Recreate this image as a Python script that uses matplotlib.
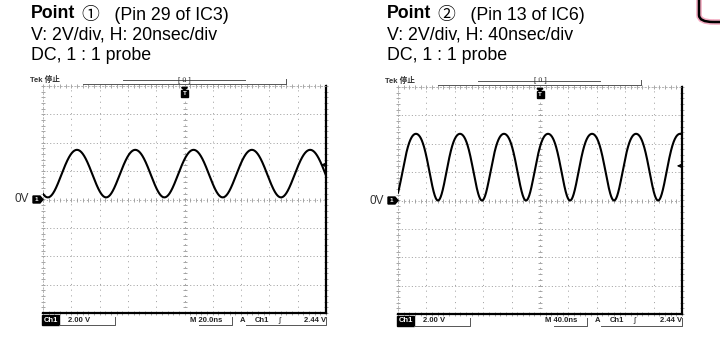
import numpy as np
import matplotlib.pyplot as plt
from matplotlib.patches import Polygon, Rectangle, FancyBboxPatch

plt.rcParams['font.family'] = ['Liberation Sans', 'Noto Sans CJK JP', 'DejaVu Sans']
plt.rcParams['lines.scale_dashes'] = False

W, H = 720, 350

# header text for each probe point
point_marks = ["\u2460", "\u2461"]
pin_labels = ["(Pin 29 of IC3)", "(Pin 13 of IC6)"]
setting_lines = ["V: 2V/div, H: 20nsec/div", "V: 2V/div, H: 40nsec/div"]
probe_lines = ["DC, 1 : 1 probe", "DC, 1 : 1 probe"]

# scope settings
time_per_div = [20.0, 40.0]   # ns/div
volt_per_div = [2.0, 2.0]     # V/div
trig_level_v = [2.44, 2.44]
ch_scale_labels = ["2.00 V", "2.00 V"]
time_labels = ["M 20.0ns", "M 40.0ns"]

# waveform
wave_period_ns = [41.2, 62.0]
wave_first_peak_ns = [24.0, 25.3]
wave_high_v = [3.5, 4.7]
wave_low_v = [0.15, 0.0]
wave_harmonic = [0.03, 0.12]  # 2nd harmonic share (sharper troughs on IC6)

# screen rectangles in pixels: left, top, right, bottom
screens = [(43, 86, 326, 313), (398, 87, 682, 314)]
text_left = [31, 387]

fig = plt.figure(figsize=(W / 100, H / 100), dpi=100)
renderer = fig.canvas.get_renderer()


def fx(x):
    return x / W


def fy(y):
    return 1 - y / H


for k in range(2):
    L, T, R, B = screens[k]
    ax = fig.add_axes([fx(L), fy(B), fx(R - L), (B - T) / H])
    tdiv = time_per_div[k]
    vdiv = volt_per_div[k]
    ax.set_xlim(0, 10 * tdiv)
    ax.set_ylim(-4 * vdiv, 4 * vdiv)
    ax.set_xticks([])
    ax.set_yticks([])
    for s in ["left", "top"]:
        ax.spines[s].set_color("#aaaaaa")
        ax.spines[s].set_linewidth(0.6)
        ax.spines[s].set_linestyle((0, (1, 1.5)))
    for s in ["right", "bottom"]:
        ax.spines[s].set_color("black")
        ax.spines[s].set_linewidth(1.6)

    # graticule
    for i in range(1, 10):
        ax.axvline(i * tdiv, color="#999999", lw=0.6, ls=(0, (0.8, 3.3)), zorder=1)
    for j in range(-3, 4):
        ax.axhline(j * vdiv, color="#999999", lw=0.6, ls=(0, (0.8, 1.6)), zorder=1)
    minor_x = np.arange(0, 10.01, 0.2) * tdiv
    minor_y = np.arange(-4, 4.01, 0.2) * vdiv
    tick_kw = dict(ls="none", mew=0.6, color="#999999", zorder=1)
    ax.plot(minor_x, np.zeros_like(minor_x), marker="|", ms=3, **tick_kw)
    ax.plot(np.full_like(minor_y, 5 * tdiv), minor_y, marker="_", ms=3, **tick_kw)
    ax.plot(minor_x, np.full_like(minor_x, -4 * vdiv), marker="|", ms=2.2, clip_on=False, **tick_kw)
    ax.plot(minor_x, np.full_like(minor_x, 4 * vdiv), marker="|", ms=2.2, clip_on=False, **tick_kw)
    ax.plot(np.zeros_like(minor_y), minor_y, marker="_", ms=2.2, clip_on=False, **tick_kw)
    ax.plot(np.full_like(minor_y, 10 * tdiv), minor_y, marker="_", ms=2.2, clip_on=False, **tick_kw)

    # trace
    t = np.linspace(0, 10 * tdiv, 1500)
    th = 2 * np.pi * (t - wave_first_peak_ns[k]) / wave_period_ns[k]
    a = (wave_high_v[k] - wave_low_v[k]) / 2
    b = wave_harmonic[k] * a
    mid = (wave_high_v[k] + wave_low_v[k]) / 2 + b
    v = mid + a * np.cos(th) - b * np.cos(2 * th)
    ax.plot(t, v, color="black", lw=1.5, zorder=3)

    # trigger level arrow on right edge
    ax.annotate("", xy=(9.82 * tdiv, trig_level_v[k]), xytext=(10 * tdiv, trig_level_v[k]),
                arrowprops=dict(arrowstyle="-|>", color="black", lw=0.7, mutation_scale=5), zorder=4)

    # ground marker "1" and 0V label
    gy = fy((T + B) / 2)
    fig.patches.append(Polygon([(fx(L - 10), gy + 3.5 / H), (fx(L - 3), gy + 3.5 / H), (fx(L), gy),
                                (fx(L - 3), gy - 3.5 / H), (fx(L - 10), gy - 3.5 / H)],
                               closed=True, color="black", transform=fig.transFigure))
    fig.text(fx(L - 6.5), gy, "1", color="white", fontsize=4.5, fontweight="bold", ha="center", va="center")
    fig.text(fx(L - 14), gy, "0V", color="#333333", fontsize=8.5, ha="right", va="center")

    # trigger position marker at top
    cx = (L + R) / 2
    fig.patches.append(Rectangle((fx(cx - 3.5), fy(T + 11)), 7 / W, 7 / H, color="black", transform=fig.transFigure))
    fig.patches.append(Polygon([(fx(cx - 3), fy(T + 1.5)), (fx(cx + 3), fy(T + 1.5)), (fx(cx), fy(T + 4))],
                               closed=True, color="black", transform=fig.transFigure))
    fig.text(fx(cx), fy(T + 7.5), "T", color="white", fontsize=4.5, fontweight="bold", ha="center", va="center")

    # record bar above screen
    fig.add_artist(plt.Line2D([fx(L + 40), fx(L + 243)], [fy(T - 2), fy(T - 2)], color="#555555", lw=0.7))
    fig.add_artist(plt.Line2D([fx(L + 243), fx(L + 243)], [fy(T - 2), fy(T - 7)], color="#555555", lw=0.7))
    fig.add_artist(plt.Line2D([fx(L + 80), fx(L + 202)], [fy(T - 6), fy(T - 6)], color="#555555", lw=0.7))
    fig.text(fx(cx), fy(T - 6), "[ \u016b ]", color="#333333", fontsize=5.5, ha="center", va="center")
    fig.text(fx(L - 13), fy(T - 6), "Tek \u505c\u6b62", color="#333333", fontsize=5.5, ha="left", va="center",
             fontweight="bold")

    # bottom readout
    ry = fy(B + 7)
    fig.patches.append(Rectangle((fx(L - 1), fy(B + 12)), 17 / W, 10 / H, color="black", transform=fig.transFigure))
    fig.text(fx(L + 7.5), ry, "Ch1", color="white", fontsize=5.5, fontweight="bold", ha="center", va="center")
    fig.text(fx(L + 25), ry, ch_scale_labels[k], color="#222222", fontsize=5.5, fontweight="bold", ha="left", va="center")
    fig.add_artist(plt.Line2D([fx(L + 16), fx(L + 72), fx(L + 72)], [fy(B + 12), fy(B + 12), fy(B + 4)],
                              color="#555555", lw=0.7))
    fig.text(fx(L + 147), ry, time_labels[k], color="#222222", fontsize=5.5, fontweight="bold", ha="left", va="center")
    fig.add_artist(plt.Line2D([fx(L + 156), fx(L + 189), fx(L + 189)], [fy(B + 12), fy(B + 12), fy(B + 4)],
                              color="#555555", lw=0.7))
    fig.text(fx(L + 197), ry, "A", color="#222222", fontsize=5.5, fontweight="bold", ha="left", va="center")
    fig.text(fx(L + 212), ry, "Ch1", color="#222222", fontsize=5.5, fontweight="bold", ha="left", va="center")
    fig.text(fx(L + 236), ry, "\u0283", color="#222222", fontsize=6, ha="center", va="center")
    fig.text(fx(R), ry, "2.44 V", color="#222222", fontsize=5.5, fontweight="bold", ha="right", va="center")
    fig.add_artist(plt.Line2D([fx(L + 203), fx(R), fx(R)], [fy(B + 12), fy(B + 12), fy(B + 4)],
                              color="#555555", lw=0.7))

    # header lines
    x0 = text_left[k]
    fs = 12.8
    tb = fig.text(fx(x0), fy(14), "Point", fontsize=fs, fontweight="bold", ha="left", va="center")
    wb = tb.get_window_extent(renderer).width
    fig.text(fx(x0 + wb + 7), fy(14), point_marks[k] + "   " + pin_labels[k], fontsize=fs, ha="left", va="center")
    fig.text(fx(x0), fy(35), setting_lines[k], fontsize=fs, ha="left", va="center")
    fig.text(fx(x0), fy(56), probe_lines[k], fontsize=fs, ha="left", va="center")

# corner of a neighbouring frame at top right
fig.patches.append(FancyBboxPatch((fx(699), fy(22)), 60 / W, 60 / H, boxstyle="round,pad=0,rounding_size=0.02",
                                  fc="none", ec="#f2a9c0", lw=4, transform=fig.transFigure))
fig.patches.append(FancyBboxPatch((fx(699), fy(22)), 60 / W, 60 / H, boxstyle="round,pad=0,rounding_size=0.02",
                                  fc="none", ec="black", lw=1.8, transform=fig.transFigure))

fig.savefig("out.png", dpi=100)
